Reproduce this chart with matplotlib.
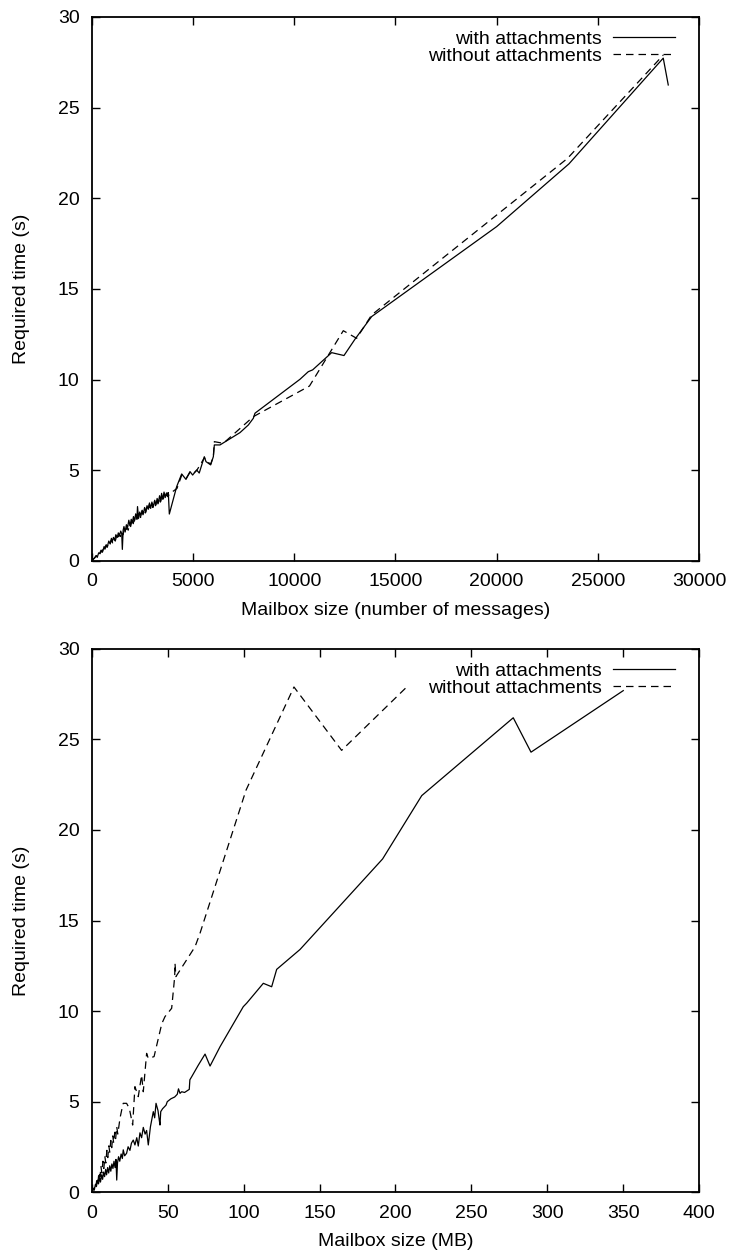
import matplotlib
matplotlib.use('Agg')
import matplotlib.pyplot as plt

plt.rcParams['font.family'] = ['Liberation Sans', 'DejaVu Sans']

# --- top: time vs number of messages ---
msg_with = [0, 60, 120, 200, 260, 330, 400, 450, 520, 600, 640, 700, 760, 830, 900, 960,
            1000, 1060, 1120, 1180, 1250, 1300, 1360, 1420, 1470, 1500, 1540, 1580, 1640,
            1700, 1760, 1820, 1880, 1940, 1990, 2050, 2100, 2160, 2220, 2250, 2300, 2360,
            2420, 2480, 2540, 2600, 2660, 2720, 2780, 2840, 2900, 2960, 3030, 3100, 3160,
            3220, 3280, 3340, 3400, 3440, 3500, 3560, 3620, 3680, 3740, 3772, 3822,
            4185, 4432, 4645, 4843, 4975, 5173, 5300, 5551, 5634, 5865, 5997, 6047, 6326,
            7315, 7727, 7974, 8056, 10279, 10690, 10906, 11845, 12454, 12997, 13823,
            20000, 23573, 28234, 28481]
time_with = [0, 0.1, 0.15, 0.3, 0.2, 0.45, 0.4, 0.6, 0.5, 0.8, 0.65, 0.9, 0.8, 1.1, 0.95, 1.25,
             1.05, 1.3, 1.15, 1.45, 1.3, 1.55, 1.4, 1.65, 1.5, 0.64, 1.7, 1.9, 1.6,
             2.0, 1.85, 2.25, 1.95, 2.3, 2.1, 2.45, 2.2, 2.6, 2.3, 3.0, 2.35, 2.7,
             2.5, 2.8, 2.6, 2.95, 2.7, 3.05, 2.85, 3.2, 2.9, 3.25, 3.0, 3.35, 3.1,
             3.45, 3.2, 3.6, 3.3, 3.73, 3.4, 3.8, 3.5, 3.75, 3.55, 3.77, 2.59,
             4.1, 4.8, 4.5, 4.93, 4.74, 5.02, 4.85, 5.75, 5.48, 5.3, 5.75, 6.4, 6.4,
             7.08, 7.5, 7.87, 8.15, 10.02, 10.44, 10.54, 11.49, 11.33, 12.23, 13.48,
             18.44, 21.9, 27.73, 26.25]

msg_without = [0, 80, 150, 220, 290, 360, 430, 500, 560, 620, 690, 750, 820, 880, 950, 1020,
               1080, 1150, 1210, 1280, 1340, 1400, 1460, 1530, 1600, 1660, 1720, 1790, 1850,
               1910, 1970, 2030, 2090, 2150, 2210, 2280, 2340, 2400, 2460, 2520, 2580, 2640,
               2700, 2770, 2830, 2890, 2950, 3010, 3080, 3140, 3200, 3260, 3320, 3380, 3450,
               3520, 3590, 3650, 3720, 3780, 3830,
               4200, 4440, 4650, 4850, 4980, 5180, 5560, 5640, 5870, 6000, 6047, 6491,
               7974, 10750, 12420, 13080, 13823, 23500, 28234]
time_without = [0, 0.12, 0.2, 0.28, 0.4, 0.35, 0.55, 0.48, 0.7, 0.6, 0.85, 0.75, 1.0, 0.9, 1.15, 1.0,
                1.25, 1.1, 1.35, 1.2, 1.5, 1.35, 1.6, 1.45, 1.75, 1.6, 1.85, 1.7, 2.05,
                1.9, 2.2, 2.0, 2.35, 2.15, 2.5, 2.3, 2.65, 2.4, 2.75, 2.55, 2.85, 2.65,
                2.95, 2.75, 3.1, 2.85, 3.15, 2.95, 3.3, 3.05, 3.4, 3.15, 3.5, 3.25, 3.6,
                3.4, 3.7, 3.45, 3.75, 3.6, 3.7,
                4.0, 4.75, 4.55, 4.9, 4.8, 5.0, 5.7, 5.5, 5.35, 5.8, 6.58, 6.49,
                7.96, 9.65, 12.7, 12.28, 13.57, 22.2, 27.9]

# --- bottom: time vs mailbox size in MB ---
mb_with = [0, 0.8, 1.5, 2.2, 2.9, 3.6, 4.3, 5.0, 5.6, 6.3, 7.0, 7.6, 8.3, 9.0, 9.6, 10.3,
           11.0, 11.7, 12.4, 13.1, 13.8, 14.5, 15.2, 15.8, 16.3, 16.8, 17.5, 18.3, 19.2,
           20.0, 20.6, 21.5, 22.8, 23.8, 25.0, 26.0, 27.2, 28.3, 29.5, 30.5, 31.6, 32.7,
           33.8, 35.0, 36.0, 37.1, 38.5, 40.4, 41.3, 42.2, 43.5, 44.3, 44.8, 45.3, 46.5,
           48.8, 49.6, 52.0, 54.5, 56.2, 57.0, 58.0, 59.1, 61.0, 64.1, 64.5, 65.7, 70.0,
           74.5, 77.8, 84.4, 99.7, 101.9, 112.9, 118.4, 121.7, 137.1, 191.5, 217.3,
           277.6, 289.3, 350.1]
tmb_with = [0, 0.15, 0.1, 0.4, 0.3, 0.6, 0.45, 0.8, 0.55, 0.95, 0.7, 1.1, 0.85, 1.25, 0.95, 1.35,
            1.05, 1.45, 1.15, 1.55, 1.3, 1.7, 1.35, 1.8, 0.66, 1.6, 1.95, 1.7, 2.1,
            1.85, 2.33, 2.0, 2.14, 2.5, 2.3, 2.7, 2.87, 2.6, 3.0, 2.54, 3.27, 3.0,
            3.57, 3.2, 3.4, 2.6, 3.6, 4.44, 4.1, 4.9, 4.5, 4.0, 3.7, 4.44, 4.6,
            4.8, 4.99, 5.15, 5.25, 5.4, 5.7, 5.45, 5.54, 5.5, 5.67, 6.2, 6.37, 7.0,
            7.62, 6.96, 8.03, 10.24, 10.43, 11.53, 11.34, 12.3, 13.4, 18.4, 21.9,
            26.2, 24.3, 27.7]

mb_without = [0, 0.7, 1.4, 2.0, 2.7, 3.3, 4.0, 4.6, 5.3, 5.9, 6.5, 7.2, 7.8, 8.5, 9.1, 9.8,
              10.4, 11.1, 11.7, 12.4, 13.0, 13.7, 14.3, 15.0, 15.6, 16.3, 17.0, 18.5, 19.5,
              20.6, 22.8, 24.6, 26.8, 28.3, 30.5, 32.7, 33.8, 36.0, 37.1, 40.9, 46.0, 48.1,
              52.5, 54.5, 54.7, 55.3, 67.9, 71.2, 101.5, 133.1, 164.5, 207.4]
tmb_without = [0, 0.2, 0.15, 0.5, 0.35, 0.8, 0.6, 1.1, 0.85, 1.4, 1.05, 1.7, 1.3, 1.95, 1.6, 2.3,
               1.9, 2.55, 2.2, 2.85, 2.45, 3.1, 2.7, 3.3, 2.95, 3.61, 3.2, 4.1, 4.5,
               4.9, 4.9, 4.62, 3.7, 5.82, 5.27, 6.46, 5.54, 7.66, 7.38, 7.48, 9.3, 9.69,
               10.15, 11.9, 12.64, 11.9, 13.55, 14.3, 22.2, 27.9, 24.4, 27.9]

FS = 14

fig = plt.figure(figsize=(7.33, 12.57), dpi=100)
ax1 = fig.add_axes([0.1255, 0.5537, 0.8281, 0.4328])
ax2 = fig.add_axes([0.1255, 0.0517, 0.8281, 0.4320])


def style(ax, xmax, xstep, xlabel):
    ax.set_xlim(0, xmax)
    ax.set_ylim(0, 30)
    ax.set_xticks(range(0, xmax + 1, xstep))
    ax.set_yticks(range(0, 31, 5))
    ax.tick_params(direction='in', length=6, width=1, top=True, right=True,
                   labelsize=FS, pad=9)
    for s in ax.spines.values():
        s.set_linewidth(1.3)
    ax.set_xlabel(xlabel, fontsize=FS, labelpad=8)
    ax.set_ylabel('Required time (s)', fontsize=FS, labelpad=20)
    ax.legend(loc='upper right', frameon=False, markerfirst=False, fontsize=FS,
              handlelength=3.2, handletextpad=0.55, borderpad=0, borderaxespad=0,
              labelspacing=0.0, bbox_to_anchor=(1 - 24 / 607, 1 - 13 / 544))


ax1.plot(msg_with, time_with, color='black', lw=0.9, label='with attachments')
ax1.plot(msg_without, time_without, color='black', lw=0.9, dashes=(6, 4),
         label='without attachments')
style(ax1, 30000, 5000, 'Mailbox size (number of messages)')

ax2.plot(mb_with, tmb_with, color='black', lw=0.9, label='with attachments')
ax2.plot(mb_without, tmb_without, color='black', lw=0.9, dashes=(6, 4),
         label='without attachments')
style(ax2, 400, 50, 'Mailbox size (MB)')

fig.savefig('out.png', dpi=100)
